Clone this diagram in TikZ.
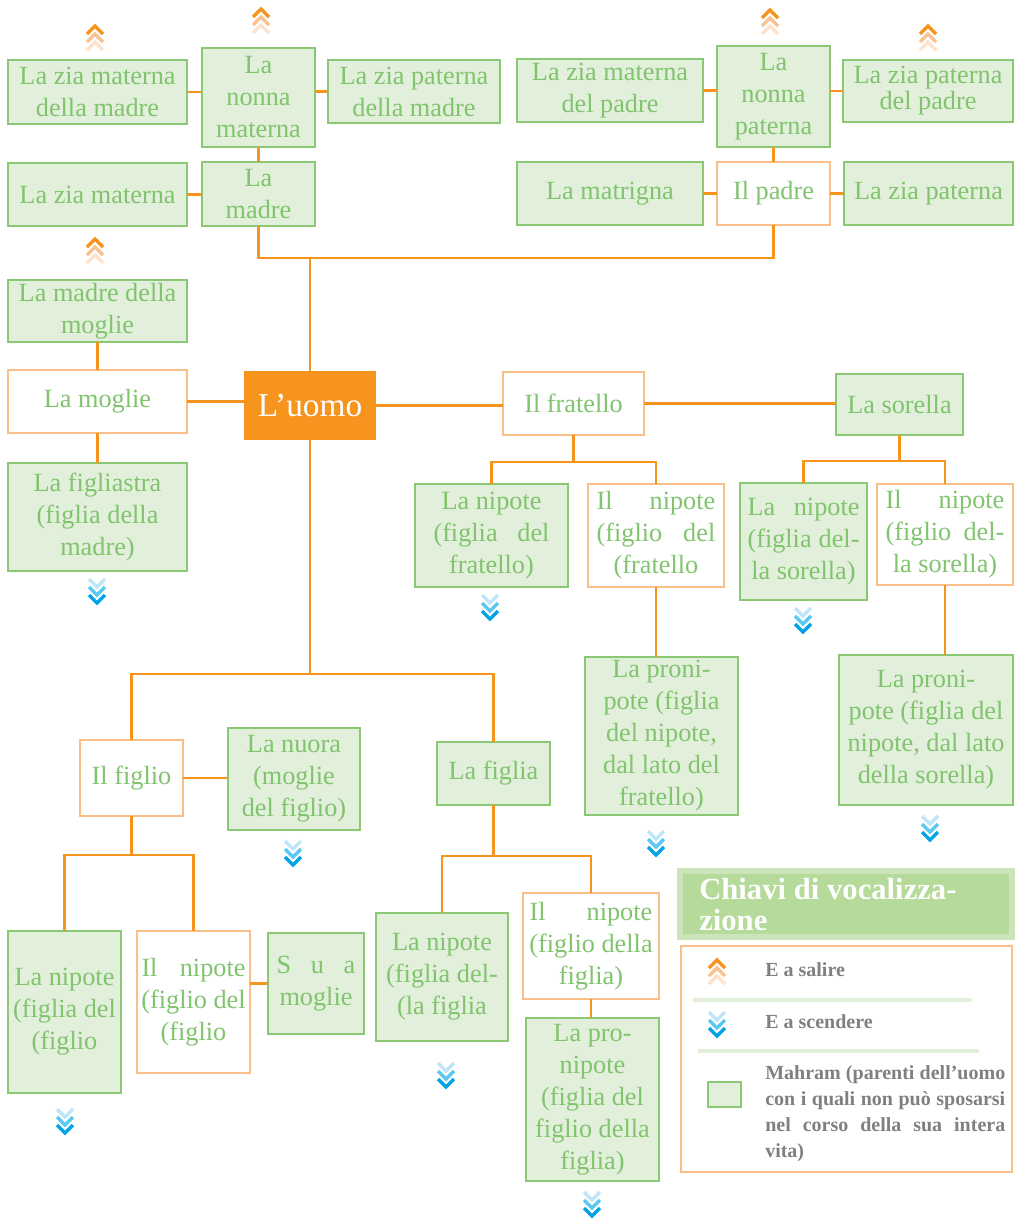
\documentclass[tikz,border=0pt]{standalone}
\usepackage{fontspec}
\setmainfont{Liberation Serif}
\definecolor{tgreen}{RGB}{128,196,110}
\definecolor{bgreen}{RGB}{138,200,116}
\definecolor{fgreen}{RGB}{226,239,218}
\definecolor{borange}{RGB}{250,190,135}
\definecolor{lorange}{RGB}{247,148,30}
\definecolor{och1}{RGB}{247,148,30}
\definecolor{och2}{RGB}{251,194,145}
\definecolor{och3}{RGB}{253,226,205}
\definecolor{bch1}{RGB}{190,230,248}
\definecolor{bch2}{RGB}{90,200,242}
\definecolor{bch3}{RGB}{0,162,232}
\definecolor{hfill}{RGB}{182,218,154}
\definecolor{hborder}{RGB}{204,228,186}
\definecolor{lgray}{RGB}{128,128,128}
\newcommand{\jl}[2]{\makebox[#1][s]{#2}}
\begin{document}
\begin{tikzpicture}[x=0.75pt,y=-0.75pt,
  box/.style 2 args={minimum width=#1*0.75pt, minimum height=#2*0.75pt},
  base/.style={inner sep=0pt, outer sep=0pt, align=center, text=tgreen,
    font=\fontsize{19.7}{24}\selectfont, line width=2.2pt},
  gbox/.style={base, draw=bgreen, fill=fgreen},
  obox/.style={base, draw=borange, fill=white},
  conn/.style={draw=lorange, line width=2pt, line join=miter},
  chev/.style={line width=2.6pt, line join=miter, line cap=butt},
  sepline/.style={draw=fgreen, line width=3pt},
  legtext/.style={inner sep=0pt, text=lgray, font=\bfseries\fontsize{15}{19.7}\selectfont, align=left},
  upchev/.pic={
    \draw[chev,draw=och3] (-8,24) -- (0,16) -- (8,24);
    \draw[chev,draw=och2] (-8,16) -- (0,8) -- (8,16);
    \draw[chev,draw=och1] (-8,8) -- (0,0) -- (8,8);
  },
  downchev/.pic={
    \draw[chev,draw=bch1] (-8,0) -- (0,8) -- (8,0);
    \draw[chev,draw=bch2] (-8,8) -- (0,16) -- (8,8);
    \draw[chev,draw=bch3] (-8,16) -- (0,24) -- (8,16);
  }]
\useasboundingbox (0,0) rectangle (1015,1221);

% top rows
\node[gbox, box={179}{64}] (zmm) at (97.5,92) {La zia materna\\della madre};
\node[gbox, box={113}{99}] (nm) at (258.5,97.5) {La\\nonna\\materna};
\node[gbox, box={172}{63}] (zpm) at (414,91.5) {La zia paterna\\della madre};
\node[gbox, box={186}{63}] (zmp) at (610,90.5) {La zia materna\\del padre};
\node[gbox, box={113}{101}] (np) at (773.5,96.5) {La\\nonna\\paterna};
\node[gbox, box={170}{62}, font=\fontsize{19.7}{19.5}\selectfont] (zpp) at (928,91) {La zia paterna\\del padre};
\node[gbox, box={179}{63}] (zm) at (97.5,194.5) {La zia materna};
\node[gbox, box={113}{64}] (madre) at (258.5,194) {La\\madre};
\node[gbox, box={186}{63}] (matr) at (610,193.5) {La matrigna};
\node[obox, box={113}{63}] (padre) at (773.5,193.5) {Il padre};
\node[gbox, box={169}{63}] (zp) at (928.5,193.5) {La zia paterna};

% middle
\node[gbox, box={179}{62}] (mdm) at (97.5,311) {La madre della\\moglie};
\node[obox, box={179}{63}] (moglie) at (97.5,401.5) {La moglie};
\node[gbox, box={179}{108}] (fgl) at (97.5,517) {La figliastra\\(figlia della\\madre)};
\node[base, box={132}{69}, fill=lorange, text=white, font=\fontsize{25}{30}\selectfont] (uomo) at (310,405.5) {L’uomo};
\node[obox, box={141}{63}] (frat) at (573.5,403.5) {Il fratello};
\node[gbox, box={127}{61}] (sor) at (899.5,404.5) {La sorella};

\node[gbox, box={153}{103}] (nfr) at (491.5,535.5) {La nipote\\\jl{87pt}{(figlia del}\\fratello)};
\node[obox, box={136}{103}] (nofr) at (656,535.5) {\jl{89pt}{Il nipote}\\\jl{89pt}{(figlio del}\\(fratello};
\node[gbox, box={153}{158}] (pnfr) at (661.5,736) {La proni-\\pote (figlia\\del nipote,\\dal lato del\\fratello)};
\node[gbox, box={127}{117}] (nsor) at (803.5,541.5) {\jl{84pt}{La nipote}\\\jl{84pt}{(figlia del-}\\la sorella)};
\node[obox, box={136}{101}] (nosor) at (945,534.5) {\jl{89pt}{Il nipote}\\\jl{89pt}{(figlio del-}\\la sorella)};
\node[gbox, box={174}{150}] (pnsor) at (926,730) {La proni-\\pote (figlia del\\nipote, dal lato\\della sorella)};

% children
\node[obox, box={103}{76}] (figlio) at (131.5,778) {Il figlio};
\node[gbox, box={132}{102}] (nuora) at (294,779) {La nuora\\(moglie\\del figlio)};
\node[gbox, box={113}{63}] (figlia) at (493.5,773.5) {La figlia};
\node[gbox, box={113}{162}] (nfi) at (64.5,1012) {La nipote\\(figlia del\\(figlio};
\node[obox, box={113}{142}] (nofi) at (193.5,1002) {\jl{78pt}{Il nipote}\\(figlio del\\(figlio};
\node[gbox, box={96}{101}] (sm) at (316,983.5) {\jl{59pt}{S u a}\\moglie};
\node[gbox, box={132}{128}] (nfa) at (442,977) {La nipote\\(figlia del-\\(la figlia};
\node[obox, box={136}{106}] (nofa) at (591,946) {\jl{92pt}{Il nipote}\\(figlio della\\figlia)};
\node[gbox, box={133}{163}] (pnfa) at (592.5,1099.5) {La pro-\\nipote\\(figlia del\\figlio della\\figlia)};

% connectors
\draw[conn] (zmm.east) -- (zmm.east -| nm.west);
\draw[conn] (zpm.west -| nm.east) -- (zpm.west);
\draw[conn] (zmp.east) -- (zmp.east -| np.west);
\draw[conn] (zpp.west -| np.east) -- (zpp.west);
\draw[conn] (nm.south) -- (madre.north);
\draw[conn] (np.south) -- (padre.north);
\draw[conn] (zm.east) -- (zm.east -| madre.west);
\draw[conn] (matr.east) -- (matr.east -| padre.west);
\draw[conn] (padre.east) -- (padre.east -| zp.west);
\path (uomo.north) ++(0,-113) coordinate (jtop);
\draw[conn] (madre.south) |- (jtop) -| (padre.south);
\draw[conn] (jtop) -- (uomo.north);

\draw[conn] (mdm.south) -- (moglie.north);
\draw[conn] (moglie.south) -- (fgl.north);
\draw[conn] (moglie.east) -- (moglie.east -| uomo.west);
\draw[conn] (uomo.east) -- (uomo.east -| frat.west);
\draw[conn] (frat.east) -- (frat.east -| sor.west);

\path (frat.south) ++(0,27) coordinate (jfr);
\draw[conn] (frat.south) -- (jfr);
\draw[conn] (nfr.north) |- (jfr) -| (nofr.north);
\draw[conn] (nofr.south) -- (nofr.south |- pnfr.north);
\path (sor.south) ++(0,26) coordinate (jsor);
\draw[conn] (sor.south) -- (jsor);
\draw[conn] (nsor.north) |- (jsor) -| (nosor.north);
\draw[conn] (nosor.south) -- (nosor.south |- pnsor.north);

\path (uomo.south) ++(0,234) coordinate (juo);
\draw[conn] (uomo.south) -- (juo);
\draw[conn] (figlio.north) |- (juo) -| (figlia.north);
\draw[conn] (figlio.east) -- (figlio.east -| nuora.west);
\path (figlio.south) ++(0,39) coordinate (jfi);
\draw[conn] (figlio.south) -- (jfi);
\draw[conn] (nfi.north) |- (jfi) -| (nofi.north);
\draw[conn] (sm.west -| nofi.east) -- (sm.west);
\path (figlia.south) ++(0,51) coordinate (jfa);
\draw[conn] (figlia.south) -- (jfa);
\draw[conn] (nfa.north) |- (jfa) -| (nofa.north);
\draw[conn] (nofa.south) -- (nofa.south |- pnfa.north);

% chevrons
\foreach \cx/\cy in {95/26, 261/9, 770/10, 928/26, 95/239}
  \pic at (\cx,\cy) {upchev};
\foreach \cx/\cy in {97/579, 490/595, 803/608, 656/831, 930/816, 293/841, 65/1109, 446/1063, 592/1192}
  \pic at (\cx,\cy) {downchev};

% legend
\node[box={332}{66}, inner sep=0pt, fill=hfill, draw=hborder, line width=4.5pt] (lhead) at (846,904) {};
\node[anchor=north west, inner sep=0pt, text=white, align=left, font=\bfseries\fontsize{23}{23.3}\selectfont] (lhtxt) at (699,878) {Chiavi di vocalizza-\\zione};
\node[box={331}{226}, inner sep=0pt, draw=borange, line width=2pt] (lbody) at (846.5,1059) {};
\pic at (717,960) {upchev};
\pic at (717,1012) {downchev};
\node[legtext, anchor=base west] (lup) at (765,976) {E a salire};
\node[legtext, anchor=base west] (ldown) at (765,1028) {E a scendere};
\draw[sepline] (693,999.5) -- (972,999.5);
\draw[sepline] (698,1050.5) -- (979,1050.5);
\node[box={33}{25}, inner sep=0pt, draw=bgreen, fill=fgreen, line width=1.8pt] (lsq) at (724.5,1094.5) {};
\node[legtext, anchor=north west] (lmah) at (765,1065) {\jl{180pt}{Mahram (parenti dell’uomo}\\\jl{180pt}{con i quali non può sposarsi}\\\jl{180pt}{nel corso della sua intera}\\vita)};
\end{tikzpicture}
\end{document}
